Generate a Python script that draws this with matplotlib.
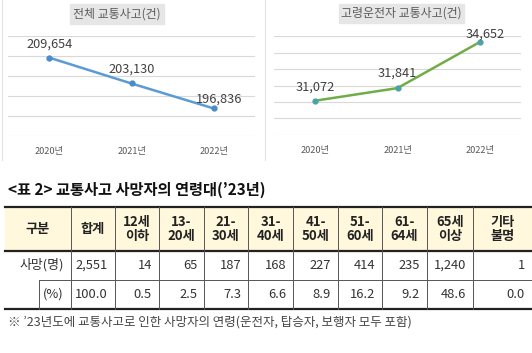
import matplotlib.pyplot as plt
from matplotlib.patches import Rectangle

plt.rcParams['font.family'] = ['Noto Sans CJK KR', 'DejaVu Sans']

# ============================================================
# DATA
# ============================================================
years = ['2020년', '2021년', '2022년']
total_accidents = [209654, 203130, 196836]
elderly_accidents = [31072, 31841, 34652]

col_headers = ['구분', '합계', '12세\n이하', '13-\n20세', '21-\n30세', '31-\n40세',
               '41-\n50세', '51-\n60세', '61-\n64세', '65세\n이상', '기타\n불명']
deaths = ['2,551', '14', '65', '187', '168', '227', '414', '235', '1,240', '1']
death_pct = ['100.0', '0.5', '2.5', '7.3', '6.6', '8.9', '16.2', '9.2', '48.6', '0.0']

table_title = "<표 2> 교통사고 사망자의 연령대(’23년)"
footnote = "※ ’23년도에 교통사고로 인한 사망자의 연령(운전자, 탑승자, 보행자 모두 포함)"

W, H = 532, 353
fig = plt.figure(figsize=(W / 100, H / 100), dpi=100)


def px_axes(x0, y0, x1, y1):
    # pixel box (top-left origin) -> figure axes
    return fig.add_axes([x0 / W, 1 - y1 / H, (x1 - x0) / W, (y1 - y0) / H])


# ============================================================
# LINE CHARTS
# ============================================================
def line_panel(box, values, ylim, step, color, mcolor, title, title_box, offsets):
    ax = px_axes(*box)
    x = range(len(values))
    ax.plot(x, values, color=color, lw=1.8, marker='o', ms=3.5,
            mfc=mcolor, mec=mcolor, zorder=3)
    ax.set_xlim(-0.5, len(values) - 0.5)
    ax.set_yticks(range(ylim[0], ylim[1] + 1, step))
    ax.yaxis.grid(True, color='#D9D9D9', lw=0.8)
    ax.set_yticklabels([])
    ax.tick_params(length=0)
    ax.set_xticks(list(x))
    ax.set_xticklabels(years, fontsize=6.6, color='#595959')
    ax.tick_params(axis='x', pad=8)
    for s in ax.spines.values():
        s.set_visible(False)
    for i, v in enumerate(values):
        ax.annotate(f'{v:,}', (i, v), xytext=offsets[i], textcoords='offset points',
                    ha='center', va='center', fontsize=9.2, color='#404040')
    ax.set_ylim(ylim[0] - step * 0.02, ylim[1] + step * 0.02)
    # title with grey box
    tx0, ty0, tx1, ty1 = title_box
    fig.patches.append(Rectangle((tx0 / W, 1 - ty1 / H), (tx1 - tx0) / W, (ty1 - ty0) / H,
                                 transform=fig.transFigure, color='#E7E6E6', zorder=0))
    fig.text((tx0 + tx1) / 2 / W, 1 - (ty0 + ty1) / 2 / H, title, ha='center', va='center',
             fontsize=8.6, color='#595959')


line_panel((8, 36, 255, 136), total_accidents, (190000, 215000), 5000,
           '#5B9BD5', '#4A8BC8', '전체 교통사고(건)', (70, 4, 164, 24),
           [(0, 10), (0, 10), (4, 7)])
line_panel((274, 36, 521, 135), elderly_accidents, (29000, 35000), 1000,
           '#70AD47', '#4BA3A8', '고령운전자 교통사고(건)', (339, 4, 464, 23),
           [(0, 10), (0, 11), (4, 6)])

# ============================================================
# TABLE
# ============================================================
tab = fig.add_axes([0, 0, 1, 1], zorder=-1)
tab.set_xlim(0, W)
tab.set_ylim(H, 0)
tab.axis('off')

# panel separators
tab.plot([2, 2], [0, 160], color='#E3E3E3', lw=0.8)
tab.plot([265, 265], [0, 160], color='#E3E3E3', lw=0.8)

tab.text(8, 190, table_title, ha='left', va='center', fontsize=11,
         fontweight='bold', color='#111111')

col_edges = [5, 71, 115, 159, 204, 248, 293, 338, 382, 427, 473, 532]
y_top, y_head, y_mid, y_bot = 207, 250.5, 280, 309

tab.add_patch(Rectangle((col_edges[0], y_top), col_edges[-1] - col_edges[0], y_head - y_top,
                        color='#FFF8DC', zorder=0))
tab.plot([col_edges[0], W], [y_top, y_top], color='#222222', lw=1.6)
tab.plot([col_edges[0], W], [y_head, y_head], color='#222222', lw=1.6)
tab.plot([39, W], [y_mid, y_mid], color='#555555', lw=0.7)
tab.plot([col_edges[0], W], [y_bot, y_bot], color='#222222', lw=1.6)
for xe in col_edges[1:-1]:
    tab.plot([xe, xe], [y_top, y_bot], color='#555555', lw=0.7)
tab.plot([39, 39], [y_mid, y_bot], color='#555555', lw=0.7)

for i, h in enumerate(col_headers):
    cx = (col_edges[i] + col_edges[i + 1]) / 2
    tab.text(cx, (y_top + y_head) / 2 + 0.5, h, ha='center', va='center', fontsize=9.5,
             fontweight='bold', color='#222222', linespacing=1.0)

tab.text(64, (y_head + y_mid) / 2, '사망(명)', ha='right', va='center', fontsize=9.3, color='#333333')
tab.text(64, (y_mid + y_bot) / 2, '(%)', ha='right', va='center', fontsize=9.3, color='#333333')
for i in range(len(deaths)):
    rx = col_edges[i + 2] - 7
    tab.text(rx, (y_head + y_mid) / 2, deaths[i], ha='right', va='center',
             fontsize=9.3, color='#333333')
    tab.text(rx, (y_mid + y_bot) / 2, death_pct[i], ha='right', va='center',
             fontsize=9.3, color='#333333')

tab.text(8, 322, footnote, ha='left', va='center', fontsize=9, color='#444444')

plt.savefig('out.png', dpi=100)
